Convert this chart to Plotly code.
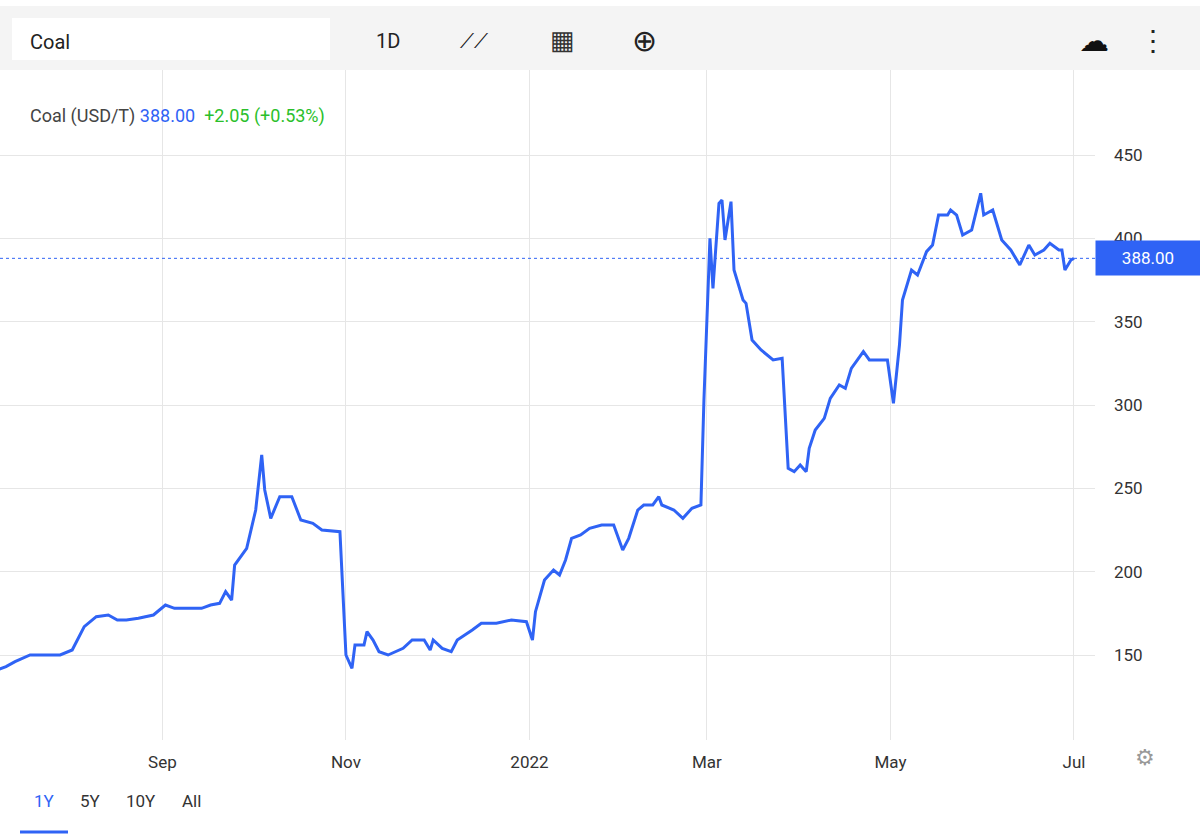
import plotly.graph_objects as go

dates = ["2021-07-08","2021-07-11","2021-07-14","2021-07-19","2021-07-29","2021-08-02","2021-08-06","2021-08-10","2021-08-14","2021-08-17","2021-08-20","2021-08-24","2021-08-29",
"2021-09-02","2021-09-05","2021-09-14","2021-09-17","2021-09-20","2021-09-22","2021-09-24","2021-09-25","2021-09-29","2021-10-02","2021-10-04","2021-10-05","2021-10-07","2021-10-10","2021-10-14","2021-10-17","2021-10-21","2021-10-24","2021-10-30",
"2021-11-01","2021-11-03","2021-11-04","2021-11-07","2021-11-08","2021-11-10","2021-11-12","2021-11-15","2021-11-20","2021-11-23","2021-11-27","2021-11-29","2021-11-30","2021-12-03","2021-12-06","2021-12-08","2021-12-13","2021-12-16","2021-12-21","2021-12-26","2021-12-31",
"2022-01-02","2022-01-03","2022-01-06","2022-01-09","2022-01-11","2022-01-13","2022-01-15","2022-01-18","2022-01-21","2022-01-25","2022-01-29","2022-02-01","2022-02-03","2022-02-06","2022-02-08","2022-02-11","2022-02-13","2022-02-14","2022-02-18","2022-02-21","2022-02-24","2022-02-27","2022-02-28",
"2022-03-02","2022-03-03","2022-03-05","2022-03-06","2022-03-07","2022-03-09","2022-03-10","2022-03-13","2022-03-14","2022-03-16","2022-03-19","2022-03-23","2022-03-26","2022-03-28","2022-03-30","2022-04-01","2022-04-03","2022-04-04","2022-04-06","2022-04-09","2022-04-11","2022-04-14","2022-04-16","2022-04-18","2022-04-22","2022-04-24","2022-04-26","2022-04-30",
"2022-05-02","2022-05-04","2022-05-05","2022-05-08","2022-05-10","2022-05-13","2022-05-15","2022-05-17","2022-05-20","2022-05-21","2022-05-23","2022-05-25","2022-05-28","2022-05-31","2022-06-01","2022-06-04","2022-06-07","2022-06-10","2022-06-13","2022-06-16","2022-06-18","2022-06-21","2022-06-23","2022-06-26","2022-06-27","2022-06-28","2022-06-30","2022-07-01"]
prices = [141,143,146,150,150,153,167,173,174,171,171,172,174,
180,178,178,180,181,188,183,204,214,237,270,249,232,245,245,231,229,225,224,
150,142,156,156,164,159,152,150,154,159,159,153,159,154,152,159,165,169,169,171,170,
159,176,195,201,198,207,220,222,226,228,228,213,220,237,240,240,245,240,237,232,238,240,303,
400,370,421,423,399,422,381,363,361,339,333,327,328,262,260,264,260,274,285,292,304,312,310,322,332,327,327,327,
301,336,363,381,378,392,396,414,414,417,414,402,405,427,414,417,399,393,384,396,390,393,397,393,393,381,387,388]

last_price = 388.00
x_ticks = ["2021-09-01","2021-11-01","2022-01-01","2022-03-01","2022-05-01","2022-07-01"]
x_labels = ["Sep","Nov","2022","Mar","May","Jul"]
y_ticks = [150,200,250,300,350,400,450]

BLUE = "#2f63f5"
fig = go.Figure()
fig.add_trace(go.Scatter(x=dates, y=prices, mode="lines", line=dict(color=BLUE, width=3), hoverinfo="skip"))
fig.add_hline(y=last_price, line=dict(color=BLUE, width=1, dash="dot"))

fig.update_layout(
    width=1200, height=839, margin=dict(l=0, r=105, t=70, b=99),
    paper_bgcolor="white", plot_bgcolor="white", showlegend=False,
    font=dict(family="Roboto, Arial", size=17, color="#333"),
    xaxis=dict(range=["2021-07-09","2022-07-08"], tickvals=x_ticks, ticktext=x_labels,
               showgrid=True, gridcolor="#e6e6e6", zeroline=False, showline=False, ticks="",
               ticklabelstandoff=10, tickfont=dict(size=17, color="#333")),
    yaxis=dict(range=[99, 501], side="right", tickvals=y_ticks, showgrid=True, gridcolor="#e6e6e6",
               zeroline=False, ticks="", ticklabelstandoff=18, tickfont=dict(size=17, color="#333")),
    shapes=[
        dict(type="line", xref="paper", yref="paper", x0=1, x1=1, y0=-99/670, y1=0, line=dict(color="#e6e6e6", width=1)),
        dict(type="line", xref="paper", yref="paper", x0=20/1095, x1=68/1095, y0=-92/670, y1=-92/670, line=dict(color=BLUE, width=3)),
    ],
)
fig.add_shape(type="rect", xref="paper", yref="paper", x0=0, x1=1200/1095, y0=1, y1=1+64/670,
              fillcolor="#f4f4f4", line=dict(width=0))
fig.add_shape(type="rect", xref="paper", yref="paper", x0=12/1095, x1=330/1095, y0=1+10/670, y1=1+52/670,
              fillcolor="white", line=dict(width=0))
def ann(text, x, y, size=17, color="#333", xanchor="left", **kw):
    fig.add_annotation(text=text, xref="paper", yref="paper", x=x/1095, y=1-(y-70)/670,
                       xanchor=xanchor, yanchor="middle", showarrow=False, font=dict(size=size, color=color), **kw)
ann("Coal", 28, 42, size=20, color="#222")
ann("1D", 388, 41, size=20, color="#222", xanchor="center")
ann("⟋⟋", 474, 41, size=20, color="#111", xanchor="center")
ann("▦", 562, 40, size=26, color="#333", xanchor="center")
ann("⊕", 644, 40, size=30, color="#222", xanchor="center")
ann("☁", 1094, 40, size=30, color="#111", xanchor="center")
ann("⋮", 1153, 40, size=28, color="#222", xanchor="center")
ann("Coal (USD/T) <span style='color:#2f63f5'>388.00</span>  <span style='color:#2bbf2b'>+2.05 (+0.53%)</span>",
    28, 116, size=18, color="#444")
ann("⚙", 1145, 757, size=22, color="#999", xanchor="center")
ann("<span style='color:#2f63f5'>1Y</span>", 44, 801, size=17, xanchor="center")
ann("5Y", 90, 801, size=17, xanchor="center")
ann("10Y", 141, 801, size=17, xanchor="center")
ann("All", 191, 801, size=17, xanchor="center")
fig.add_annotation(text=" 388.00 ", xref="paper", yref="y", x=1, y=last_price, xanchor="left", yanchor="middle",
                   showarrow=False, bgcolor=BLUE, font=dict(size=17, color="white"), borderpad=7, width=90, align="center")
fig.write_html("out.html", config={"displayModeBar": False},
               post_script="document.body.style.margin='0';document.body.style.overflow='hidden';")
